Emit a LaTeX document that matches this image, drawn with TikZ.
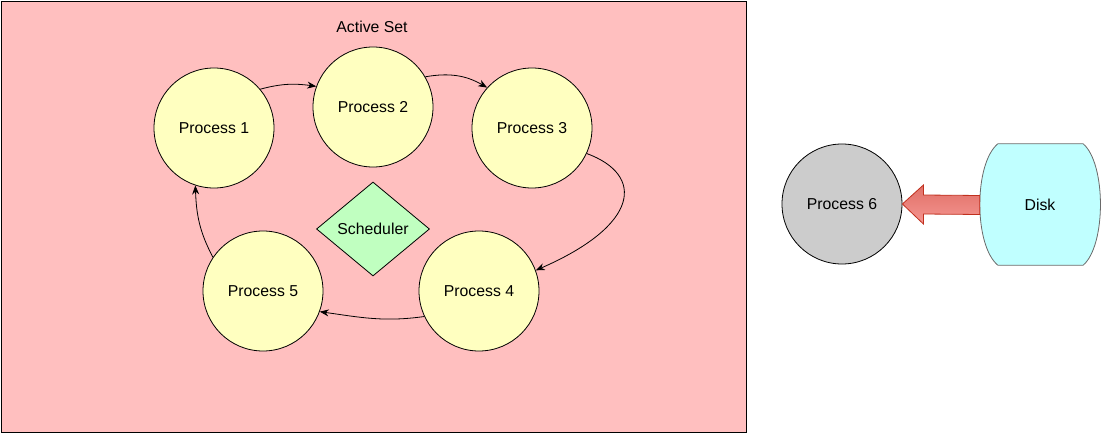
\documentclass[tikz,border=0pt]{standalone}
\usepackage{fontspec}
\setmainfont{Liberation Sans}
\usetikzlibrary{arrows.meta,calc,shapes.geometric}
\definecolor{pinkbg}{HTML}{FFBFBF}
\definecolor{procy}{HTML}{FFFFC0}
\definecolor{schedg}{HTML}{C0FFC0}
\definecolor{grayp}{HTML}{CCCCCC}
\definecolor{diskc}{HTML}{C0FFFF}
\definecolor{diskline}{HTML}{6A6A6A}
\definecolor{arrtop}{HTML}{E07068}
\definecolor{arrbot}{HTML}{F59590}
\definecolor{arrline}{HTML}{C0301E}
\begin{document}
\begin{tikzpicture}[x=1pt,y=1pt,
  every node/.style={font=\fontsize{15.8}{18}\selectfont},
  proc/.style={circle,draw=black,line width=0.8pt,fill=procy,minimum size=120pt,inner sep=0pt},
  flow/.style={-{Stealth[length=9pt,width=7pt]},line width=0.8pt}]
\useasboundingbox (0,0) rectangle (1101,-433);
\node[draw=black,line width=0.8pt,fill=pinkbg,minimum width=745pt,minimum height=431pt,inner sep=0pt] (set) at (373.5,-216.5) {};
\node (title) at (372,-27) {Active Set};
\node[proc] (p1) at (214,-128) {Process 1};
\node[proc] (p2) at (373,-107) {Process 2};
\node[proc] (p3) at (532,-128) {Process 3};
\node[proc] (p4) at (479,-291) {Process 4};
\node[proc] (p5) at (263,-291) {Process 5};
\node[diamond,draw=black,line width=0.8pt,fill=schedg,minimum width=113pt,minimum height=94pt,inner sep=0pt,aspect=1.2] (sch) at (373,-229) {Scheduler};
\node[proc,fill=grayp] (p6) at (842,-204) {Process 6};
\node[minimum width=120pt,minimum height=121pt,inner sep=0pt] (disk) at (1040,-204.5) {};
\filldraw[fill=diskc,draw=diskline,line width=0.8pt]
  ($(disk.north west)+(18,0)$) -- ($(disk.north east)+(-17,0)$)
  .. controls ($(disk.north east)+(6,-20)$) and ($(disk.south east)+(6,20)$) .. ($(disk.south east)+(-17,0)$)
  -- ($(disk.south west)+(18,0)$)
  .. controls ($(disk.south west)+(-6,20)$) and ($(disk.north west)+(-6,-20)$) .. cycle;
\node at (disk.center) {Disk};
\draw[flow] (p1.40) to[out=15,in=172] (p2.160);
\draw[flow] (p2.30) to[out=10,in=150] (p3.138);
\draw[flow] (p3.-25) .. controls (645,-175) and (640,-225) .. (p4.20);
\draw[flow] (p4.205) to[out=188,in=-8] (p5.-20);
\draw[flow] (p5.146) to[out=118,in=-88] (p1.252);
\shade[top color=arrtop,bottom color=arrbot,draw=arrline,line width=0.8pt]
  (p6.east) -- ($(p6.east)+(21,19)$) -- ($(p6.east)+(21,9)$) -- ($(disk.west)+(0,9)$)
  -- ($(disk.west)+(0,-10)$) -- ($(p6.east)+(21,-10)$) -- ($(p6.east)+(21,-20)$) -- cycle;
\end{tikzpicture}
\end{document}
